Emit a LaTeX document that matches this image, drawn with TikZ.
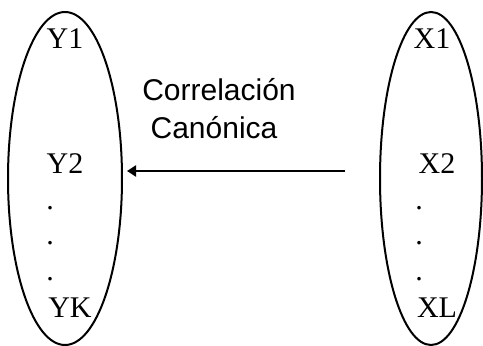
\documentclass[tikz,border=0pt]{standalone}
\usepackage{fontspec}
\setmainfont{Liberation Serif}
\newfontfamily\labelsans{Liberation Sans}
\usetikzlibrary{shapes.geometric,arrows.meta}
\begin{document}
\begin{tikzpicture}[x=1pt,y=-1pt,
  setbox/.style={draw=black,line width=2pt,ellipse,inner sep=0pt},
  var/.style={font=\fontsize{30}{30}\selectfont,inner sep=0pt,anchor=base},
  lbl/.style={font=\labelsans\fontsize{30}{30}\selectfont,inner sep=0pt,anchor=base},
  conn/.style={line width=2.2pt,-{Triangle[length=9pt,width=11pt]}}]
\useasboundingbox (0,0) rectangle (483,346);
\node[setbox,minimum width=114pt,minimum height=333pt] (Yset) at (65,178.5) {};
\node[setbox,minimum width=102pt,minimum height=333pt] (Xset) at (431,178.5) {};
\node[var] (y1) at (65,48) {Y1};
\node[var] (y2) at (65,173) {Y2};
\node[var] (yd1) at (50,209) {.};
\node[var] (yd2) at (50,244) {.};
\node[var] (yd3) at (50,280) {.};
\node[var] (yk) at (70,317) {YK};
\node[var] (x1) at (432,48) {X1};
\node[var] (x2) at (437,173) {X2};
\node[var] (xd1) at (419,209) {.};
\node[var] (xd2) at (419,244) {.};
\node[var] (xd3) at (419,280) {.};
\node[var] (xl) at (437,317) {XL};
\node[lbl] (c1) at (219,100) {Correlación};
\node[lbl] (c2) at (214,138) {Canónica};
\coordinate (astart) at (345,171);
\coordinate (aend) at (127,171);
\draw[conn] (astart) -- (aend);
\end{tikzpicture}
\end{document}
